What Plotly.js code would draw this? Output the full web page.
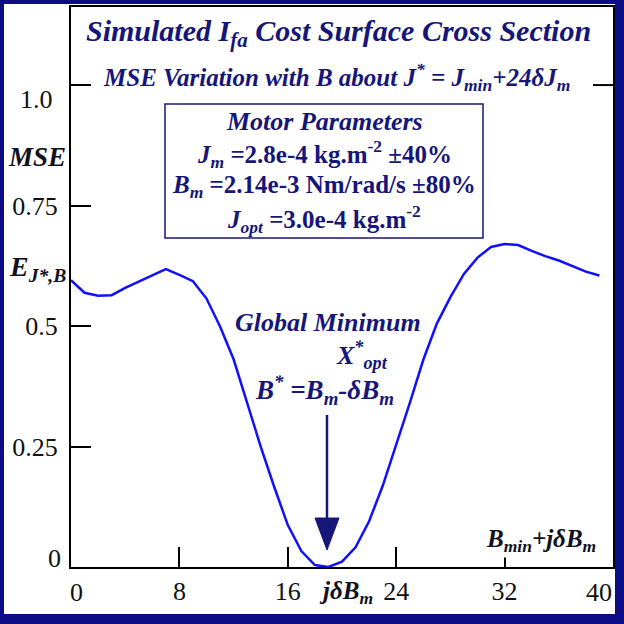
<!DOCTYPE html>
<html><head><meta charset="utf-8">
<script src="https://cdn.plot.ly/plotly-3.0.1.min.js"></script>
<style>body{margin:0;padding:0;background:#fff}#chart{width:624px;height:624px}</style>
</head><body><div id="chart"></div>
<script>
// Data: MSE cost vs j (B index)
const jIndex = [0,1,2,3,4,5,6,7,8,9,10,11,12,13,14,15,16,17,18,19,20,21,22,23,24,25,26,27,28,29,30,31,32,33,34,35,36,37,38,39];
const mseValues = [0.595,0.569,0.563,0.564,0.579,0.592,0.605,0.618,0.606,0.593,0.557,0.499,0.431,0.339,0.250,0.166,0.087,0.033,0.004,0.000,0.011,0.041,0.095,0.168,0.253,0.340,0.430,0.505,0.560,0.608,0.642,0.664,0.670,0.668,0.656,0.645,0.636,0.625,0.613,0.605];
const xTickVals = [0,8,16,24,32,40];
const xTickText = ['','8','16','24','32',''];
const yTickVals = [0,0.25,0.5,0.75,1.0];
const yTickText = ['','0.25','0.5','0.75',''];

const W = 624, H = 624;
const L = 71, R = 613, T = 7, B = 567;
const px = p => (p - L) / (R - L);
const py = p => (B - p) / (B - T);
const NAVY = '#16167a';
const SERIF = 'Liberation Serif';

function ann(x, y, text, size, color, extra) {
  return Object.assign({xref:'paper', yref:'paper', x:px(x), y:py(y), text:text, showarrow:false,
    xanchor:'center', yanchor:'middle', font:{family:SERIF, size:size, color:color}}, extra || {});
}

const annotations = [
  ann(338, 33, '<b><i>Simulated I<sub>fa</sub> Cost Surface Cross Section</i></b>', 30, NAVY),
  ann(336, 77, '<b><i>MSE Variation with B about J<sup>*</sup> = J<sub>min</sub>+24δJ<sub>m</sub></i></b>', 25, NAVY),
  ann(324, 121, '<b><i>Motor Parameters</i></b>', 26, NAVY),
  ann(324, 154, '<b><i>J<sub>m</sub></i> =2.8e-4 kg.m<sup>-2</sup> ±40%</b>', 25, NAVY),
  ann(324, 187, '<b><i>B<sub>m</sub></i> =2.14e-3 Nm/rad/s ±80%</b>', 25, NAVY),
  ann(324, 219, '<b><i>J<sub>opt</sub></i> =3.0e-4 kg.m<sup>-2</sup></b>', 25, NAVY),
  ann(37, 157, '<b><i>MSE</i></b>', 27, '#111122'),
  ann(37, 268, '<b><i>E<sub>J*,B</sub></i></b>', 28, '#111122'),
  ann(36, 100, '1.0', 26, '#111111'),
  ann(54, 558, '0', 26, '#111111'),
  ann(76, 592, '0', 26, '#111111'),
  ann(599, 592, '40', 26, '#111111'),
  ann(328, 322, '<b><i>Global Minimum</i></b>', 26, NAVY),
  ann(362, 355, '<b><i>X<sup>*</sup><sub>opt</sub></i></b>', 26, NAVY),
  ann(324, 390, '<b><i>B<sup>*</sup> =B<sub>m</sub>-δB<sub>m</sub></i></b>', 27, NAVY),
  ann(541, 540, '<b><i>B<sub>min</sub>+jδB<sub>m</sub></i></b>', 25, '#111122', {bgcolor:'#ffffff'}),
  ann(346, 592, '<b><i>jδB<sub>m</sub></i></b>', 25, '#111122')
];

const shapes = [
  {type:'rect', xref:'paper', yref:'paper', x0:px(4), x1:px(615), y0:py(614), y1:py(4),
   fillcolor:'#ffffff', line:{width:0}, layer:'below'},
  {type:'rect', xref:'paper', yref:'paper', x0:px(165), x1:px(483), y0:py(238), y1:py(104),
   fillcolor:'#ffffff', line:{color:NAVY, width:1.5}, layer:'above'},
  {type:'line', xref:'paper', yref:'y', x0:px(593), x1:1, y0:1.0, y1:1.0, line:{color:'#000', width:2}},
  {type:'line', xref:'paper', yref:'paper', x0:px(327), x1:px(327), y0:py(415), y1:py(522), line:{color:NAVY, width:2.5}},
  {type:'path', xref:'paper', yref:'paper',
   path:`M ${px(315)},${py(518)} L ${px(339)},${py(518)} L ${px(327)},${py(550)} Z`,
   fillcolor:NAVY, line:{color:NAVY, width:1}}
];

const trace = {x:jIndex, y:mseValues, type:'scatter', mode:'lines',
  line:{color:'#1010ff', width:2.5}, hoverinfo:'skip'};

const layout = {
  width:W, height:H,
  font:{family:SERIF},
  margin:{l:L, r:W-R, t:T, b:H-B, pad:0},
  paper_bgcolor:'#0c0c84', plot_bgcolor:'#ffffff',
  showlegend:false,
  xaxis:{range:[0,40], tickvals:xTickVals, ticktext:xTickText, ticks:'inside', ticklen:20, tickwidth:2,
    tickcolor:'#000', showline:true, linecolor:'#000', linewidth:2, mirror:true, showgrid:false, zeroline:false,
    tickfont:{family:SERIF, size:26, color:'#111'}},
  yaxis:{range:[0,1.162], tickvals:yTickVals, ticktext:yTickText, ticks:'inside', ticklen:20, tickwidth:2,
    tickcolor:'#000', showline:true, linecolor:'#000', linewidth:2, mirror:true, showgrid:false, zeroline:false,
    tickfont:{family:SERIF, size:26, color:'#111'}, ticklabelstandoff:6},
  annotations:annotations, shapes:shapes
};

Plotly.newPlot('chart', [trace], layout, {displayModeBar:false, staticPlot:true});
</script></body></html>
